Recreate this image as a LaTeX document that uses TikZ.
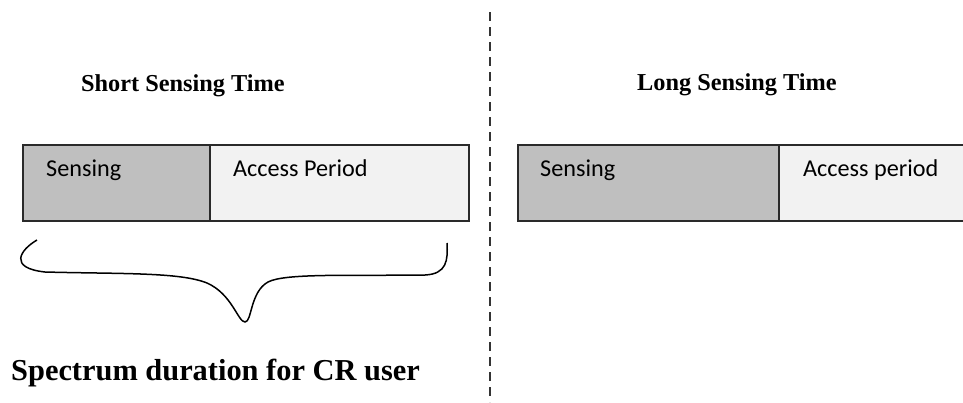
\documentclass[tikz,border=0pt]{standalone}
\usepackage{fontspec}
\setmainfont{Liberation Serif}
\newfontfamily\calfont{Carlito}
\definecolor{senseFill}{HTML}{BFBFBF}
\definecolor{accessFill}{HTML}{F2F2F2}
\definecolor{frameLine}{HTML}{2A2A2A}
\begin{document}
\begin{tikzpicture}[x=1pt,y=-1pt,
  slot/.style={draw=frameLine, line width=1.5pt, rectangle, anchor=north west,
               minimum height=76pt, inner sep=0pt},
  sensebox/.style={slot, fill=senseFill},
  accessbox/.style={slot, fill=accessFill},
  boxtext/.style={font=\calfont\fontsize{24.2}{28}\selectfont, anchor=base west, inner sep=0pt},
  heading/.style={font=\bfseries\fontsize{24.3}{28}\selectfont, anchor=base west, inner sep=0pt},
  caption/.style={font=\bfseries\fontsize{30.4}{34}\selectfont, anchor=base west, inner sep=0pt}]
  \useasboundingbox (0,0) rectangle (963,402);

  % divider between the two cases
  \coordinate (divTop) at (490,12);
  \coordinate (divBot) at (490,402);
  \draw[line width=1.7pt, black!80, dash pattern=on 9pt off 6pt] (divTop) -- (divBot);

  % short sensing time
  \node[heading] (shortT) at (81,91) {Short Sensing Time};
  \node[sensebox, minimum width=187pt] (sS) at (22,144) {};
  \node[accessbox, minimum width=259pt] (sA) at (209,144) {};
  \node[boxtext] (sSt) at (46,176) {Sensing};
  \node[boxtext] (sAt) at (233,176) {Access Period};

  % brace under the short frame
  \draw[line width=1.5pt, black]
    (37,240) .. controls (20,250) and (8,268) .. (45,272)
    .. controls (120,274) and (180,272) .. (207,283)
    .. controls (232,294) and (238,322) .. (245,322)
    .. controls (252,322) and (250,292) .. (268,282)
    .. controls (285,273) and (350,276) .. (425,275)
    .. controls (447,274) and (448,260) .. (447,243);

  \node[caption] (spec) at (11,380) {Spectrum duration for CR user};

  % long sensing time
  \node[heading] (longT) at (637,90) {Long Sensing Time};
  \node[sensebox, minimum width=261pt] (lS) at (517,144) {};
  \node[accessbox, minimum width=200pt] (lA) at (778,144) {};
  \node[boxtext] (lSt) at (540,176) {Sensing};
  \node[boxtext] (lAt) at (803,176) {Access period};
\end{tikzpicture}
\end{document}
